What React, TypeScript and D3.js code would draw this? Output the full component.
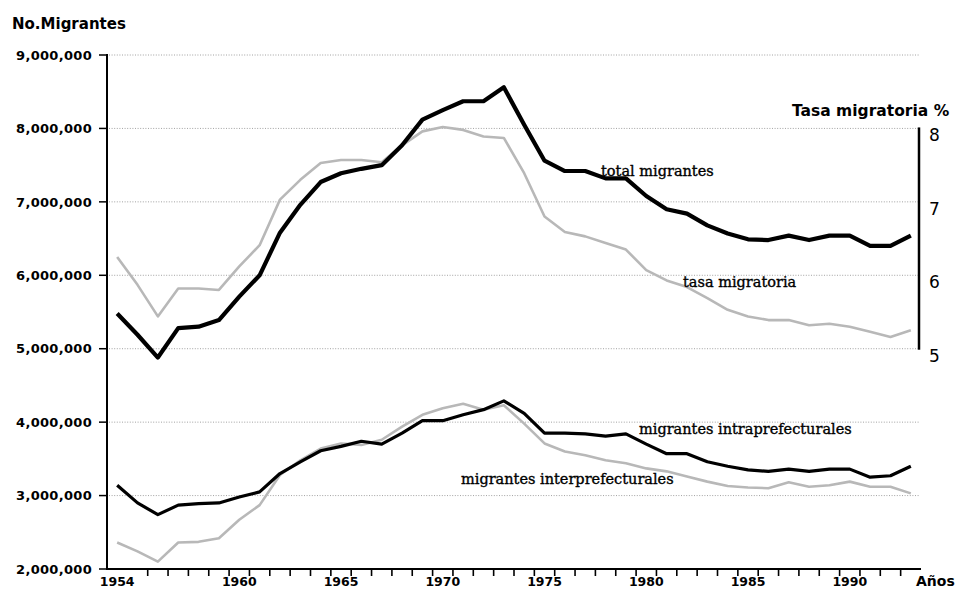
import React from 'react'
import * as d3 from 'd3'

// years 1954-1993
const years = d3.range(1954, 1994)

// millions of migrants
const totalMigrantes = [
    5.48, 5.19, 4.88, 5.28, 5.30, 5.39, 5.71, 6.00, 6.58, 6.96,
    7.27, 7.39, 7.45, 7.50, 7.77, 8.12, 8.25, 8.37, 8.37, 8.56,
    8.05, 7.56, 7.42, 7.42, 7.32, 7.32, 7.08, 6.90, 6.84, 6.68,
    6.57, 6.49, 6.48, 6.54, 6.48, 6.54, 6.54, 6.40, 6.40, 6.54,
]

// percent, right axis
const tasaMigratoria = [
    6.25, 5.87, 5.44, 5.82, 5.82, 5.80, 6.12, 6.41, 7.03, 7.30,
    7.53, 7.57, 7.57, 7.54, 7.77, 7.96, 8.02, 7.98, 7.89, 7.87,
    7.39, 6.80, 6.59, 6.53, 6.44, 6.35, 6.07, 5.93, 5.84, 5.69,
    5.53, 5.44, 5.39, 5.39, 5.32, 5.34, 5.30, 5.23, 5.16, 5.25,
]

const intraprefecturales = [
    3.14, 2.90, 2.74, 2.87, 2.89, 2.90, 2.98, 3.05, 3.30, 3.46,
    3.61, 3.67, 3.74, 3.70, 3.85, 4.02, 4.02, 4.10, 4.17, 4.29,
    4.12, 3.85, 3.85, 3.84, 3.81, 3.84, 3.70, 3.57, 3.57, 3.46,
    3.40, 3.35, 3.33, 3.36, 3.33, 3.36, 3.36, 3.25, 3.27, 3.40,
]

const interprefecturales = [
    2.36, 2.24, 2.10, 2.36, 2.37, 2.42, 2.67, 2.87, 3.28, 3.48,
    3.64, 3.71, 3.69, 3.76, 3.94, 4.10, 4.19, 4.25, 4.17, 4.23,
    3.98, 3.71, 3.60, 3.55, 3.48, 3.44, 3.37, 3.33, 3.26, 3.19,
    3.13, 3.11, 3.10, 3.18, 3.12, 3.14, 3.19, 3.12, 3.12, 3.03,
]

const leftTicks = [2000000, 3000000, 4000000, 5000000, 6000000, 7000000, 8000000, 9000000]
const rightTicks = [5, 6, 7, 8]
const yearLabels = [1954, 1960, 1965, 1970, 1975, 1980, 1985, 1990]

const sans = '"DejaVu Sans", Verdana, sans-serif'
const serif = '"DejaVu Serif", Georgia, serif'

const App = () => {
    const x = d3.scaleLinear().domain([1953.5, 1993.5]).range([107, 921])
    const y = d3.scaleLinear().domain([2000000, 9000000]).range([569, 55])
    const yRight = d3.scaleLinear().domain([5, 8]).range([y(5000000), y(8000000)])

    const line = d3.line<number>()
        .x((d, i) => x(years[i]))
        .y(d => y(d * 1000000))

    const fmt = d3.format(',')
    const tickYears = d3.range(1955, 1993).map(v => v + 0.5)

    // serif labels are a bit heavier in the scan
    const serifLabel = { fontFamily: serif, fontSize: 14.5, stroke: '#000', strokeWidth: 0.35 }

    return (
        <svg width={958} height={589} style={{ position: 'absolute', left: 0, top: 0, background: '#fff' }}>
            {/* grid */}
            {leftTicks.slice(1).map(t => (
                <line key={`g-${t}`} x1={x(1953.5) + 2} x2={x(1993.5) - 2} y1={y(t)} y2={y(t)}
                      stroke="#8a8a8a" strokeWidth={0.8} strokeDasharray="1 1.6" />
            ))}

            {/* left axis */}
            <line x1={x(1953.5)} x2={x(1953.5)} y1={y(9000000) - 1} y2={y(2000000) + 1} stroke="#000" strokeWidth={2} />
            {leftTicks.map(t => (
                <g key={`l-${t}`}>
                    <line x1={x(1953.5) - 8} x2={x(1953.5)} y1={y(t)} y2={y(t)} stroke="#000" strokeWidth={1.5} />
                    <text x={92} y={y(t)} dy="0.36em" textAnchor="end" fontFamily={sans} fontWeight="bold"
                          fontSize={13} letterSpacing={0.3}>{fmt(t)}</text>
                </g>
            ))}

            {/* bottom axis */}
            <line x1={x(1953.5)} x2={x(1993.5)} y1={y(2000000)} y2={y(2000000)} stroke="#000" strokeWidth={2} />
            {tickYears.map(t => (
                <line key={`t-${t}`} x1={x(t)} x2={x(t)} y1={y(2000000)} y2={y(2000000) + 7} stroke="#000" strokeWidth={1.6} />
            ))}
            {yearLabels.map(yr => (
                <text key={`yl-${yr}`} x={x(yr)} y={586} textAnchor="middle" fontFamily={sans} fontWeight="bold"
                      fontSize={12.5}>{yr}</text>
            ))}

            {/* right axis */}
            <line x1={919} x2={919} y1={yRight(8) - 1} y2={yRight(5) + 1} stroke="#000" strokeWidth={2.5} />
            {rightTicks.map(t => (
                <text key={`r-${t}`} x={929} y={yRight(t) + 13} fontFamily={sans} fontSize={17}>{t}</text>
            ))}

            {/* series */}
            <path d={line(tasaMigratoria) ?? ''} fill="none" stroke="#b8b8b8" strokeWidth={2.6} strokeLinejoin="round" />
            <path d={line(interprefecturales) ?? ''} fill="none" stroke="#b8b8b8" strokeWidth={2.6} strokeLinejoin="round" />
            <path d={line(intraprefecturales) ?? ''} fill="none" stroke="#000" strokeWidth={3.2} strokeLinejoin="round" />
            <path d={line(totalMigrantes) ?? ''} fill="none" stroke="#000" strokeWidth={4.2} strokeLinejoin="round" />

            {/* series labels */}
            <text x={601} y={176} {...serifLabel}>total migrantes</text>
            <text x={683} y={287} {...serifLabel}>tasa migratoria</text>
            <text x={639} y={434} {...serifLabel}>migrantes intraprefecturales</text>
            <text x={461} y={484} {...serifLabel}>migrantes interprefecturales</text>

            {/* titles */}
            <text x={12} y={29} fontFamily={sans} fontWeight="bold" fontSize={15}>No.Migrantes</text>
            <text x={792} y={116} fontFamily={sans} fontWeight="bold" fontSize={15.5}>Tasa migratoria %</text>
            <text x={916} y={586} fontFamily={sans} fontWeight="bold" fontSize={14}>Años</text>
        </svg>
    )
}

export default App
